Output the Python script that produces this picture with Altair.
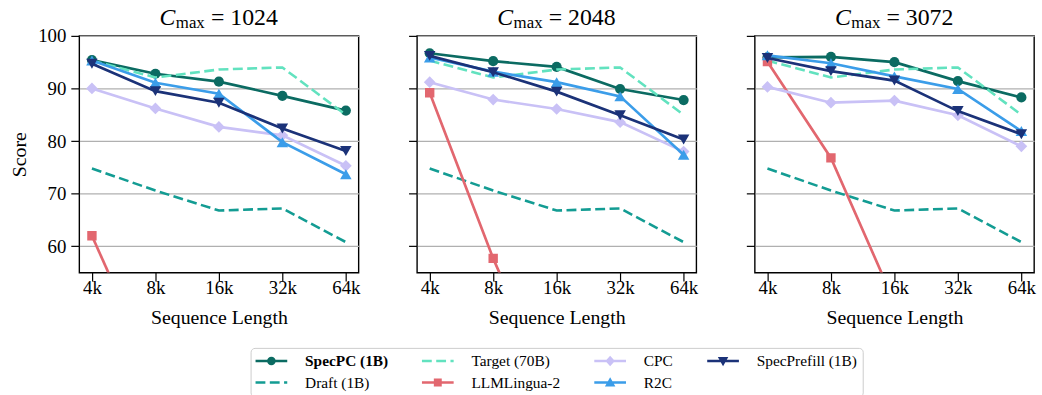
import altair as alt
import pandas as pd

# ---------------- data ----------------
seq_lengths = ["4k", "8k", "16k", "32k", "64k"]
budgets = [1024, 2048, 3072]

target_70b = [95.3, 92.1, 93.6, 94.0, 85.0]
draft_1b = [74.8, 70.6, 66.8, 67.2, 60.8]

specpc_1024 = [95.4, 92.8, 91.3, 88.6, 85.8]
cpc_1024 = [90.0, 86.2, 82.7, 81.1, 75.3]
r2c_1024 = [95.3, 91.1, 89.0, 79.8, 73.7]
specprefill_1024 = [94.7, 89.5, 87.3, 82.4, 78.1]
llmlingua_1024 = [62.0, 35.0]

specpc_2048 = [96.7, 95.2, 94.1, 89.9, 87.8]
cpc_2048 = [91.2, 87.9, 86.1, 83.6, 78.0]
r2c_2048 = [95.9, 93.2, 91.2, 88.5, 77.4]
specprefill_2048 = [96.2, 93.1, 89.4, 84.9, 80.3]
llmlingua_2048 = [89.2, 57.7, 30.0]

specpc_3072 = [95.9, 96.0, 95.0, 91.4, 88.3]
cpc_3072 = [90.3, 87.3, 87.7, 84.9, 79.0]
r2c_3072 = [96.3, 94.8, 92.3, 89.9, 81.9]
specprefill_3072 = [95.8, 93.3, 91.5, 85.7, 81.3]
llmlingua_3072 = [95.1, 76.8, 49.4]

series_names = ["SpecPC (1B)", "Draft (1B)", "Target (70B)", "LLMLingua-2",
                "CPC", "R2C", "SpecPrefill (1B)"]
series_colors = ["#0b6b62", "#139c93", "#62e2bf", "#e2676f",
                 "#c9c1f6", "#3b9de9", "#1b3278"]

panel_values = {
    1024: [specpc_1024, draft_1b, target_70b, llmlingua_1024, cpc_1024, r2c_1024, specprefill_1024],
    2048: [specpc_2048, draft_1b, target_70b, llmlingua_2048, cpc_2048, r2c_2048, specprefill_2048],
    3072: [specpc_3072, draft_1b, target_70b, llmlingua_3072, cpc_3072, r2c_3072, specprefill_3072],
}

rows = []
for b in budgets:
    for name, vals in zip(series_names, panel_values[b]):
        for xl, v in zip(seq_lengths, vals):
            rows.append({"budget": b, "series": name, "seq": xl, "score": v})
df = pd.DataFrame(rows)

# ---------------- styles ----------------
FONT = "Liberation Serif"
dashed = {"Draft (1B)", "Target (70B)"}
markers = {"SpecPC (1B)": ("circle", 105), "LLMLingua-2": ("square", 90),
           "CPC": ("diamond", 140), "R2C": ("triangle-up", 135),
           "SpecPrefill (1B)": ("triangle-down", 135)}

# legend glyphs: a line (or dashes) with the series marker; 1 unit = 8 px
LINE = "M-2,-0.16L2,-0.16L2,0.16L-2,0.16Z"
DASH = ("M-2,-0.16L-0.76,-0.16L-0.76,0.16L-2,0.16Z"
        "M-0.2,-0.16L1.04,-0.16L1.04,0.16L-0.2,0.16Z"
        "M1.6,-0.16L2,-0.16L2,0.16L1.6,0.16Z")
glyphs = {
    "SpecPC (1B)": LINE + "M0.54,0A0.54,0.54,0,1,1,-0.54,0A0.54,0.54,0,1,1,0.54,0Z",
    "Draft (1B)": DASH,
    "Target (70B)": DASH,
    "LLMLingua-2": LINE + "M-0.5,-0.5L0.5,-0.5L0.5,0.5L-0.5,0.5Z",
    "CPC": LINE + "M0,-0.66L0.6,0L0,0.66L-0.6,0Z",
    "R2C": LINE + "M0,-0.66L0.66,0.5L-0.66,0.5Z",
    "SpecPrefill (1B)": LINE + "M0,0.66L-0.66,-0.5L0.66,-0.5Z",
}

# legend fills column by column (vertical direction): same order as plotted
legend_order = series_names
legend_colors = series_colors
legend_shapes = [glyphs[s] for s in legend_order]

# line colours (no legend) use a reversed domain so they stay a separate scale
color_scale = alt.Scale(domain=series_names[::-1], range=series_colors[::-1])
fill_scale = alt.Scale(domain=legend_order, range=legend_colors)
shape_scale = alt.Scale(domain=legend_order, range=legend_shapes)

legend = alt.Legend(
    title=None, orient="none", legendX=173, legendY=315, columns=4,
    labelFont=FONT, labelFontSize=15.5, labelColor="black",
    labelFontWeight=alt.ExprRef("datum.value === 'SpecPC (1B)' ? 'bold' : 'normal'"),
    symbolSize=256, symbolOffset=8, symbolStrokeWidth=0, labelOffset=26, symbolOpacity=1,
    columnPadding=34, rowPadding=5, padding=5,
    strokeColor="#cccccc", fillColor="white", cornerRadius=4,
)

W, H = 282, 239


def panel(b, first):
    d = df[df.budget == b]
    base = alt.Chart(d)
    x = alt.X("seq:N", sort=seq_lengths,
              scale=alt.Scale(type="point", padding=0.2, domain=seq_lengths),
              axis=alt.Axis(title="Sequence Length", labelAngle=0))
    y = alt.Y("score:Q", scale=alt.Scale(domain=[55, 100], nice=False, zero=False),
              axis=alt.Axis(values=[60, 70, 80, 90, 100], labels=first,
                            title="Score" if first else None))
    col = alt.Color("series:N", scale=color_scale, legend=None)
    layers = []
    for s in series_names:
        f = base.transform_filter(alt.datum.series == s)
        if s in dashed:
            layers.append(f.mark_line(clip=True, strokeWidth=2.6, strokeDash=[10, 4.5])
                          .encode(x=x, y=y, color=col))
        else:
            layers.append(f.mark_line(clip=True, strokeWidth=2.7)
                          .encode(x=x, y=y, color=col))
            shp, sz = markers[s]
            layers.append(f.mark_point(clip=True, filled=True, opacity=1, shape=shp, size=sz)
                          .encode(x=x, y=y, color=col))
    # title with subscript: C_max = b
    tdf = pd.DataFrame({"sym": ["C"], "sub": ["max"], "rest": ["= " + str(b)]})
    tbase = alt.Chart(tdf)
    layers.append(tbase.mark_text(font=FONT, fontSize=24, fontStyle="italic",
                                  align="left", baseline="alphabetic", color="black")
                  .encode(text="sym:N", x=alt.value(81), y=alt.value(-10.5)))
    layers.append(tbase.mark_text(font=FONT, fontSize=17,
                                  align="left", baseline="alphabetic", color="black")
                  .encode(text="sub:N", x=alt.value(97.5), y=alt.value(-7.5)))
    layers.append(tbase.mark_text(font=FONT, fontSize=24,
                                  align="left", baseline="alphabetic", color="black")
                  .encode(text="rest:N", x=alt.value(133), y=alt.value(-10.5)))
    if first:
        # legend-only proxy layer (its marks are clipped away outside the panel)
        leg_df = pd.DataFrame({"series": legend_order})
        layers.append(alt.Chart(leg_df).mark_point(filled=True, clip=True)
                      .encode(x=alt.value(0), y=alt.value(-500),
                              fill=alt.Fill("series:N", scale=fill_scale, legend=legend),
                              shape=alt.Shape("series:N", scale=shape_scale, legend=legend)))
    return alt.layer(*layers).properties(width=W, height=H)


chart = alt.hconcat(*[panel(b, i == 0) for i, b in enumerate(budgets)], spacing=46).properties(
    padding={"left": 9, "top": 3, "right": 5, "bottom": 64}
).configure_view(stroke="black", strokeWidth=1.4).configure_axis(
    labelFont=FONT, titleFont=FONT, labelFontSize=19, titleFontSize=20,
    labelColor="black", titleColor="black", titleFontWeight="normal",
    tickColor="black", tickSize=8.5, tickWidth=1.2, domain=False,
    gridColor="#b0b0b0", gridWidth=1.2,
).configure_axisY(titlePadding=8, labelPadding=5).configure_axisX(titlePadding=10, labelPadding=-2)

chart.save("out.html", embed_options={"renderer": "svg", "actions": False})
